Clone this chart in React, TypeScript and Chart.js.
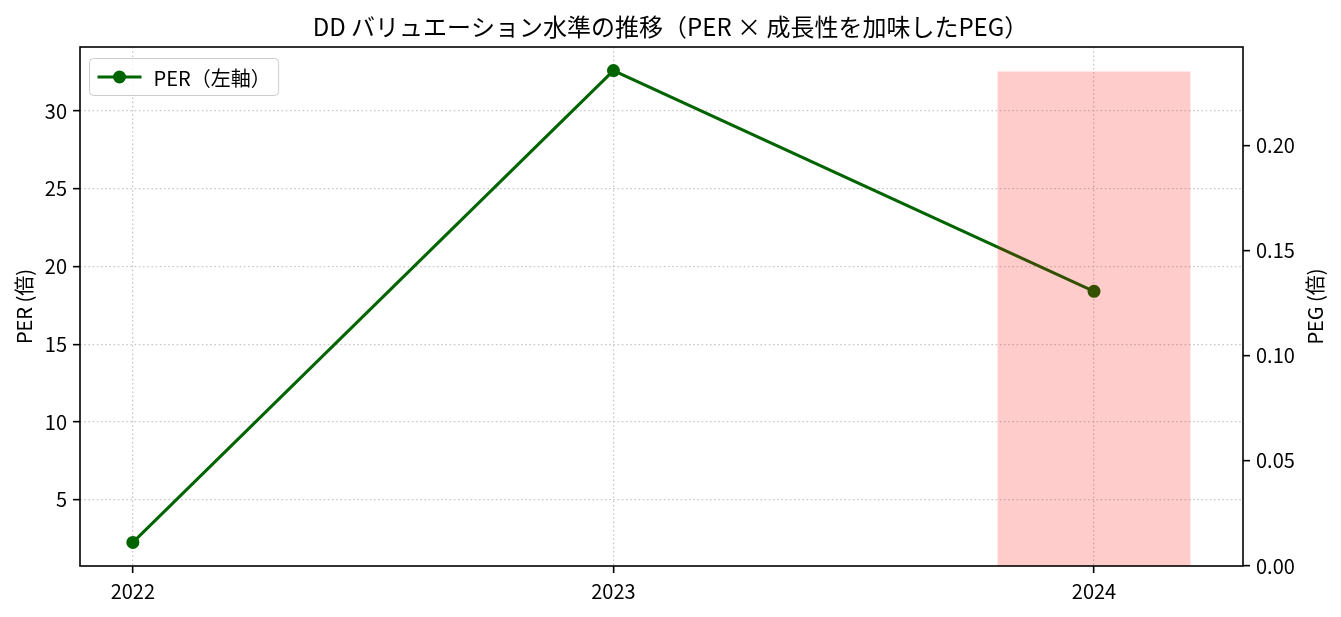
import React, { useEffect, useRef } from 'react';
import { Chart, registerables } from 'chart.js';

Chart.register(...registerables);

const TITLE = 'DD バリュエーション水準の推移（PER × 成長性を加味したPEG）';
const YEARS = [2022, 2023, 2024];
const PER = [2.25, 32.6, 18.4];
const PEG: (number | null)[] = [null, null, 0.235];
const PER_LABEL = 'PER（左軸）';
const PEG_LABEL = 'PEG（右軸）';
const Y_LEFT_TITLE = 'PER (倍)';
const Y_RIGHT_TITLE = 'PEG (倍)';
const X_TICKS = [2022, 2023, 2024];
const LEFT_TICKS = [5, 10, 15, 20, 25, 30];
const RIGHT_TICKS = [0, 0.05, 0.1, 0.15, 0.2];
const BAR_WIDTH = 0.4;

const W = 1341;
const H = 617;
const LEFT_W = 80;
const RIGHT_W = 98;
const BOTTOM_H = 51;
const FONT = '"Noto Sans CJK JP", "Noto Sans", sans-serif';
const LINE_COLOR = '#006400';

export default function App() {
  const ref = useRef<HTMLCanvasElement | null>(null);

  useEffect(() => {
    if (!ref.current) return;
    Chart.defaults.font.family = FONT;
    Chart.defaults.color = '#000';

    const xLo = Math.min(...YEARS);
    const xHi = Math.max(...YEARS.filter((_, i) => PEG[i] != null).map((y) => y + BAR_WIDTH / 2), ...YEARS);
    const xPad = (xHi - xLo) * 0.05;
    const xMin = xLo - xPad;
    const xMax = xHi + xPad;

    const pLo = Math.min(...PER);
    const pHi = Math.max(...PER);
    const pPad = (pHi - pLo) * 0.05;

    const gHi = Math.max(...(PEG.filter((v) => v != null) as number[]));

    const plotW = W - LEFT_W - RIGHT_W;
    const barPx = (plotW / (xMax - xMin)) * BAR_WIDTH;

    const lineData = YEARS.map((y, i) => ({ x: y, y: PER[i] }));
    const barData = YEARS.map((y, i) => ({ x: y, y: PEG[i] })).filter((d) => d.y != null);

    const decor = {
      id: 'decor',
      afterDatasetsDraw(chart: any) {
        const { ctx, chartArea: a } = chart;
        ctx.save();
        ctx.strokeStyle = '#000';
        ctx.lineWidth = 1.6;
        ctx.strokeRect(a.left, a.top, a.right - a.left, a.bottom - a.top);
        ctx.restore();
      },
      afterDraw(chart: any) {
        const { ctx, chartArea: a } = chart;
        // right axis title (reads bottom to top)
        ctx.save();
        ctx.font = `20px ${FONT}`;
        ctx.fillStyle = '#000';
        ctx.translate(chart.width - 26, (a.top + a.bottom) / 2);
        ctx.rotate(-Math.PI / 2);
        ctx.textAlign = 'center';
        ctx.textBaseline = 'middle';
        ctx.fillText(Y_RIGHT_TITLE, 0, 0);
        ctx.restore();

        // legend
        ctx.save();
        ctx.font = `20px ${FONT}`;
        const tw = ctx.measureText(PER_LABEL).width;
        const bx = a.left + 9.5;
        const by = a.top + 11.5;
        const bw = 64 + tw + 8;
        const bh = 37;
        ctx.beginPath();
        (ctx as any).roundRect(bx, by, bw, bh, 4);
        ctx.fillStyle = 'rgba(255,255,255,0.8)';
        ctx.fill();
        ctx.strokeStyle = '#cccccc';
        ctx.lineWidth = 1;
        ctx.stroke();
        const cy = by + bh / 2;
        ctx.strokeStyle = LINE_COLOR;
        ctx.lineWidth = 3;
        ctx.beginPath();
        ctx.moveTo(bx + 8, cy);
        ctx.lineTo(bx + 52, cy);
        ctx.stroke();
        ctx.fillStyle = LINE_COLOR;
        ctx.beginPath();
        ctx.arc(bx + 30, cy, 6.5, 0, Math.PI * 2);
        ctx.fill();
        ctx.fillStyle = '#000';
        ctx.textAlign = 'left';
        ctx.textBaseline = 'middle';
        ctx.fillText(PER_LABEL, bx + 64, cy + 1);
        ctx.restore();
      },
    };

    const tickGrid = (onArea: boolean) => ({
      display: true,
      offset: false,
      drawOnChartArea: onArea,
      drawTicks: true,
      tickLength: 7,
      tickWidth: 1.6,
      tickColor: '#000',
      tickBorderDash: [],
      color: '#c8c8c8',
      lineWidth: 1.3,
    });

    const chart = new Chart(ref.current, {
      type: 'line',
      data: {
        datasets: [
          {
            type: 'line',
            label: PER_LABEL,
            data: lineData,
            borderColor: LINE_COLOR,
            backgroundColor: LINE_COLOR,
            borderWidth: 3,
            pointRadius: 6.5,
            pointBorderWidth: 0,
            pointBackgroundColor: LINE_COLOR,
            yAxisID: 'y',
            order: 1,
          } as any,
          {
            type: 'bar',
            label: PEG_LABEL,
            data: barData,
            backgroundColor: 'rgba(255,0,0,0.2)',
            borderWidth: 0,
            barThickness: barPx,
            yAxisID: 'y2',
            order: 0,
          } as any,
        ],
      },
      options: {
        responsive: false,
        animation: false,
        events: [],
        layout: { padding: 0 },
        plugins: {
          legend: { display: false },
          tooltip: { enabled: false },
          title: {
            display: true,
            text: TITLE,
            font: { size: 24, weight: 'normal', family: FONT, lineHeight: 1.2 },
            color: '#000',
            padding: { top: 12.6, bottom: 5.6 },
          },
        },
        scales: {
          x: {
            type: 'linear',
            offset: false,
            min: xMin,
            max: xMax,
            grid: tickGrid(true),
            border: { display: false, dash: [1.6, 2.6] },
            ticks: {
              font: { size: 20 },
              padding: 6,
              maxRotation: 0,
              autoSkip: false,
              callback: (v: any) => String(v),
            },
            afterBuildTicks: (s: any) => {
              s.ticks = X_TICKS.map((v) => ({ value: v }));
            },
            afterFit: (s: any) => {
              s.height = BOTTOM_H;
            },
          },
          y: {
            type: 'linear',
            position: 'left',
            min: pLo - pPad,
            max: pHi + pPad,
            grid: tickGrid(true),
            border: { display: false, dash: [1.6, 2.6] },
            title: {
              display: true,
              text: Y_LEFT_TITLE,
              font: { size: 20, lineHeight: 1.2 },
              padding: { top: 12, bottom: 0 },
            },
            ticks: {
              font: { size: 20 },
              padding: 6,
              callback: (v: any) => String(v),
            },
            afterBuildTicks: (s: any) => {
              s.ticks = LEFT_TICKS.map((v) => ({ value: v }));
            },
            afterFit: (s: any) => {
              s.width = LEFT_W;
            },
          },
          y2: {
            type: 'linear',
            position: 'right',
            min: 0,
            max: gHi * 1.05,
            grid: tickGrid(false),
            border: { display: false },
            ticks: {
              font: { size: 20 },
              padding: 6,
              callback: (v: any) => Number(v).toFixed(2),
            },
            afterBuildTicks: (s: any) => {
              s.ticks = RIGHT_TICKS.map((v) => ({ value: v }));
            },
            afterFit: (s: any) => {
              s.width = RIGHT_W;
            },
          },
        },
      } as any,
      plugins: [decor],
    });

    return () => chart.destroy();
  }, []);

  return (
    <div style={{ position: 'absolute', left: 0, top: 0, width: W, height: H, background: '#fff' }}>
      <canvas ref={ref} width={W} height={H} style={{ display: 'block', width: W, height: H }} />
    </div>
  );
}
